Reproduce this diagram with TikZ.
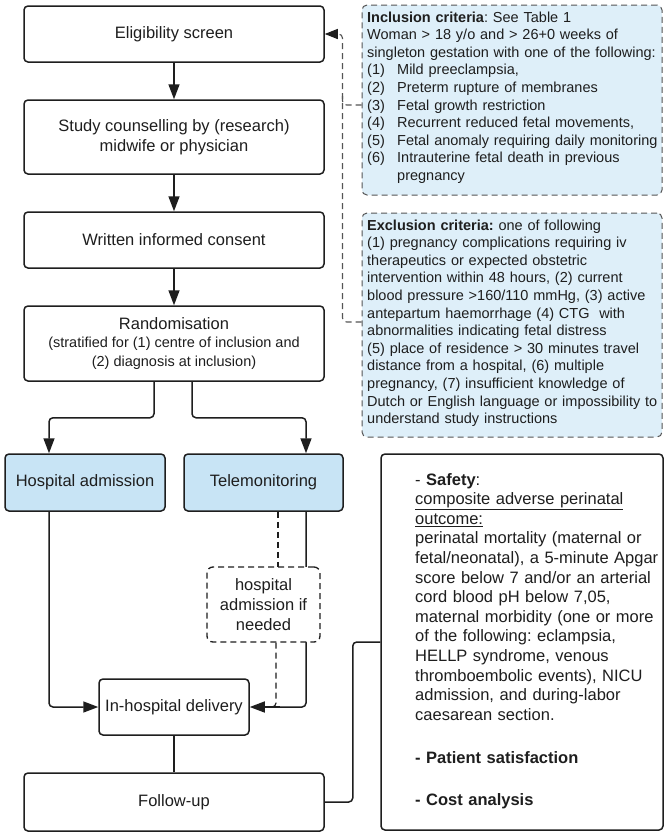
\documentclass[tikz,border=0pt]{standalone}
\usepackage{fontspec}
\setmainfont{Liberation Sans}
\usetikzlibrary{arrows.meta}
\frenchspacing
\definecolor{boxblue}{HTML}{C8E4F5}
\definecolor{critblue}{HTML}{DEEFF9}
\definecolor{ink}{HTML}{1E1E1E}
\definecolor{dashgray}{HTML}{555555}
\newcommand\fmain{\fontsize{16.5}{20}\selectfont}
\newcommand\fsmall{\fontsize{14.5}{18.5}\selectfont}
\newcommand\fcrit{\fontsize{14.5}{17.6}\selectfont}
\newcommand\fout{\fontsize{16.5}{19.6}\selectfont}
\tikzset{
  stepbox/.style={draw=ink, rounded corners=4pt, line width=1.5pt, align=center, font=\fmain, text=ink, inner sep=0pt, fill=white},
  bluebox/.style={stepbox, fill=boxblue},
  critbox/.style={draw=dashgray, dash pattern=on 6pt off 4pt, rounded corners=5pt, line width=1pt, fill=critblue, inner sep=0pt},
  conn/.style={draw=ink, line width=1.5pt, rounded corners=4pt},
  arr/.style={conn, -{Triangle[length=15pt,width=11pt]}},
  dconn/.style={draw=ink, line width=1.2pt, dash pattern=on 6pt off 4pt, rounded corners=4pt},
  txt/.style={anchor=base west, inner sep=0pt, align=left, text=ink}
}
\begin{document}
\begin{tikzpicture}[x=1pt,y=-1pt]
\useasboundingbox[fill=white] (0,0) rectangle (665,833);

% criteria boxes
\node[critbox, minimum width=300pt, minimum height=190pt] (incl) at (512,100) {};
\node[critbox, minimum width=300pt, minimum height=224pt] (excl) at (512,325) {};
\node[txt, font=\fcrit, text width=294pt] (incltxt) at (367,22) {\textbf{Inclusion criteria}: See Table 1\\
Woman > 18 y/o and > 26+0 weeks of\\
singleton gestation with one of the following:\\
\makebox[30pt][l]{(1)}Mild preeclampsia,\\
\makebox[30pt][l]{(2)}Preterm rupture of membranes\\
\makebox[30pt][l]{(3)}Fetal growth restriction\\
\makebox[30pt][l]{(4)}Recurrent reduced fetal movements,\\
\makebox[30pt][l]{(5)}Fetal anomaly requiring daily monitoring\\
\makebox[30pt][l]{(6)}Intrauterine fetal death in previous\\
\hspace*{30pt}pregnancy};
\node[txt, font=\fcrit, text width=294pt] (excltxt) at (367,230) {\textbf{Exclusion criteria:} one of following\\
(1) pregnancy complications requiring iv\\
therapeutics or expected obstetric\\
intervention within 48 hours, (2) current\\
blood pressure >160/110 mmHg, (3) active\\
antepartum haemorrhage (4) CTG\ \ with\\
abnormalities indicating fetal distress\\
(5) place of residence > 30 minutes travel\\
distance from a hospital, (6) multiple\\
pregnancy, (7) insufficient knowledge of\\
Dutch or English language or impossibility to\\
understand study instructions};

% main flow
\node[stepbox, minimum width=300pt, minimum height=56pt] (elig) at (174,34) {Eligibility screen};
\node[stepbox, minimum width=300pt, minimum height=74pt] (study) at (174,137) {Study counselling by (research)\\midwife or physician};
\node[stepbox, minimum width=300pt, minimum height=56pt] (cons) at (174,240) {Written informed consent};
\node[stepbox, minimum width=300pt, minimum height=75pt, font=\fsmall] (rand) at (174,343.5) {{\fmain Randomisation}\\(stratified for (1) centre of inclusion and\\(2) diagnosis at inclusion)};
\node[bluebox, minimum width=160pt, minimum height=57pt] (hosp) at (85,482.5) {Hospital admission};
\node[bluebox, minimum width=159pt, minimum height=57pt] (tele) at (263.5,482.5) {Telemonitoring};
\node[stepbox, minimum width=150pt, minimum height=56pt] (deliv) at (174,707) {In-hospital delivery};
\node[stepbox, minimum width=282pt, minimum height=376pt] (outc) at (522,642) {};
\node[stepbox, minimum width=300pt, minimum height=58pt] (follow) at (174,802) {Follow-up};

% connectors
\draw[arr] (elig) -- (study);
\draw[arr] (study) -- (cons);
\draw[arr] (cons) -- (rand);
\draw[arr] ([xshift=-20pt]rand.south) -- ++(0,36) -| ([xshift=-36pt]hosp.north);
\draw[arr] ([xshift=18pt]rand.south) -- ++(0,36) -| ([xshift=42.5pt]tele.north);
\draw[arr] ([xshift=-36pt]hosp.south) |- (deliv.west);
\draw[conn] ([xshift=42.5pt]tele.south) |- ([xshift=8pt]deliv.east);
\draw[dconn] ([xshift=14.5pt]tele.south) -- ++(0,56);
\node[stepbox, draw=ink, dash pattern=on 6pt off 4pt, line width=1.3pt, rounded corners=6pt, minimum width=113pt, minimum height=75pt] (ifneed) at (263.5,604.5) {hospital\\admission if\\needed};
\draw[dconn] ([xshift=12.5pt]ifneed.south) |- ([xshift=8pt]deliv.east);
\draw[arr] ([xshift=30pt]deliv.east) -- (deliv.east);
\draw[conn] (deliv) -- (follow);
\draw[conn] (follow.east) -- ++(28,0) |- (outc.west);

% dashed criteria links
\draw[dconn, draw=dashgray, line width=1.1pt, -{Triangle[length=13pt,width=10pt,color=ink]}] ([yshift=3pt]excl.west) -- ++(-19,0) |- (elig.east);
\draw[dconn, draw=dashgray, line width=1.1pt] ([yshift=-5pt]incl.west) -- ++(-19,0) -- ++(0,-10);

% outcome text
\node[txt, font=\fout, text width=245pt] (outtxt) at (415,485) {- \textbf{Safety}:\\
\underline{composite adverse perinatal}\\
\underline{outcome:}\\
perinatal mortality (maternal or\\
fetal/neonatal), a 5-minute Apgar\\
score below 7 and/or an arterial\\
cord blood pH below 7,05,\\
maternal morbidity (one or more\\
of the following: eclampsia,\\
HELLP syndrome, venous\\
thromboembolic events), NICU\\
admission, and during-labor\\
caesarean section.\\[23.7pt]
\textbf{- Patient satisfaction}\\[22pt]
\textbf{- Cost analysis}};
\end{tikzpicture}
\end{document}
